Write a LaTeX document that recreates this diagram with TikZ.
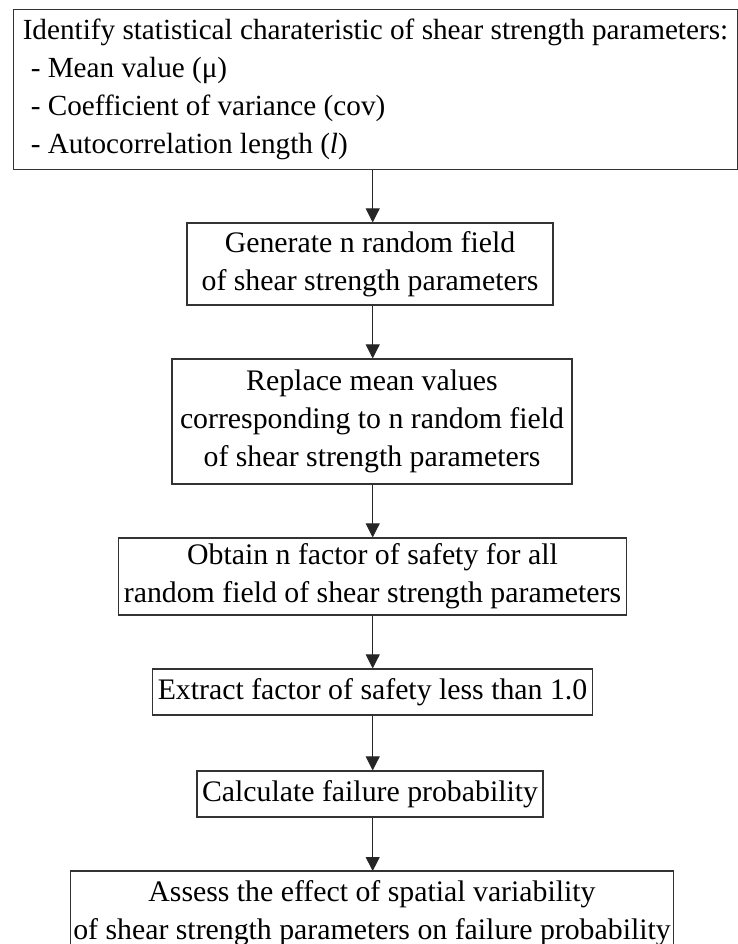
\documentclass[tikz,border=0pt]{standalone}
\usepackage{fontspec}
\setmainfont{Liberation Serif}
\usetikzlibrary{arrows.meta}
\begin{document}
\begin{tikzpicture}[x=1pt,y=-1pt,
  box/.style={draw=black!80, line width=1.2pt, inner xsep=5pt, inner ysep=0pt, align=center, font=\fontsize{29.8}{38}\selectfont},
  arr/.style={draw=black!85, line width=1pt, -{Triangle[width=14pt,length=14pt]}}]
\useasboundingbox (0,0) rectangle (738,944);
\fill[white] (0,0) rectangle (738,944);
\coordinate (axis) at (372.7,0);
\node[box, inner xsep=2.5pt, anchor=north west, minimum width=724.3pt, minimum height=160pt, align=left, font=\fontsize{29.2}{38}\selectfont] (b1) at (12.7,9)
  {Identify statistical charateristic of shear strength parameters:\\
   \hspace*{8pt}- Mean value (μ)\\
   \hspace*{8pt}- Coefficient of variance (cov)\\
   \hspace*{8pt}- Autocorrelation length (\textit{l})};
\node[box, minimum width=366pt, minimum height=82pt] (b2) at (370,264)
  {Generate n random field\\ of shear strength parameters};
\node[box, minimum width=400pt, minimum height=125pt] (b3) at (372,421.5)
  {Replace mean values\\ corresponding to n random field\\ of shear strength parameters};
\node[box, minimum height=77pt] (b4) at (372.5,576.5)
  {Obtain n factor of safety for all\\ random field of shear strength parameters};
\node[box, minimum height=46pt] (b5) at (372.5,692)
  {Extract factor of safety less than 1.0};
\node[box, minimum width=336pt, minimum height=46pt] (b6) at (370,794)
  {Calculate failure probability};
\node[box, inner xsep=2pt, draw=none, anchor=north, minimum width=600pt, minimum height=83pt] (b7) at (372,871)
  {Assess the effect of spatial variability\\ of shear strength parameters on failure probability};
\draw[draw=black!80, line width=1.2pt] (b7.north west |- 0,946) -- (b7.north west) -- (b7.north east) -- (b7.north east |- 0,946);
\draw[arr] (axis |- b1.south) -- (axis |- b2.north);
\draw[arr] (axis |- b2.south) -- (axis |- b3.north);
\draw[arr] (axis |- b3.south) -- (axis |- b4.north);
\draw[arr] (axis |- b4.south) -- (axis |- b5.north);
\draw[arr] (axis |- b5.south) -- (axis |- b6.north);
\draw[arr] (axis |- b6.south) -- (axis |- b7.north);
\end{tikzpicture}
\end{document}
